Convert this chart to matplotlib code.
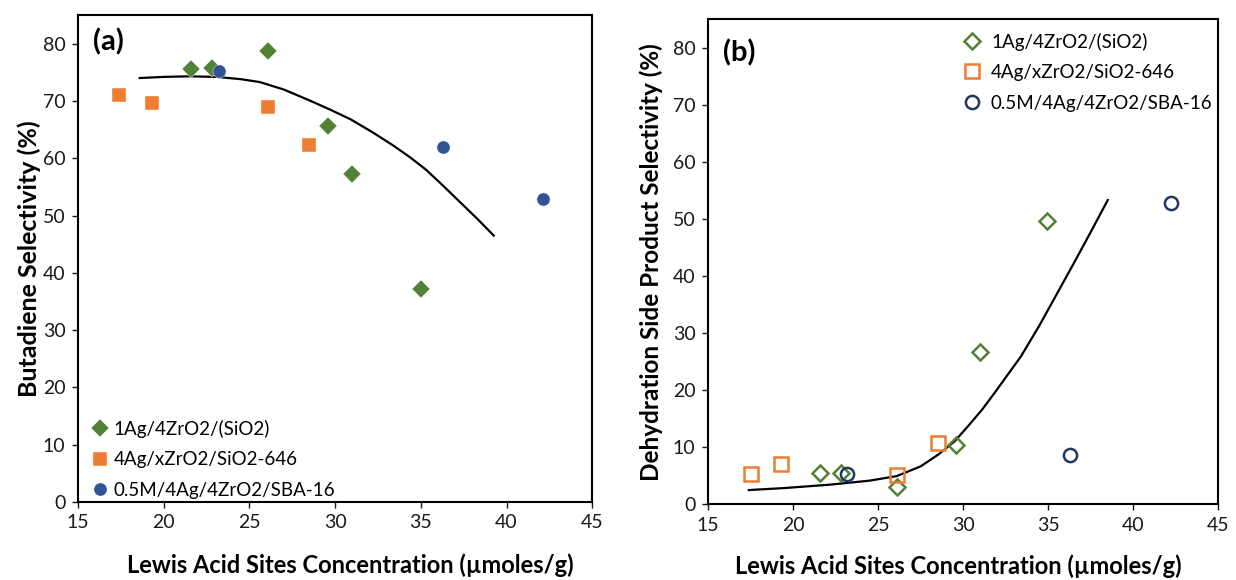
import matplotlib
matplotlib.use("Agg")
import matplotlib.pyplot as plt

plt.rcParams["font.family"] = ["Lato", "DejaVu Sans"]

GREEN = "#538135"
ORANGE = "#ED7D31"
BLUE = "#2F5597"
NAVY = "#203864"

LABELS = ["1Ag/4ZrO2/(SiO2)", "4Ag/xZrO2/SiO2-646", "0.5M/4Ag/4ZrO2/SBA-16"]

# --- panel (a): butadiene selectivity ---
a_green_x = [21.6, 22.8, 26.1, 29.6, 31.0, 35.0]
a_green_y = [75.5, 75.8, 78.7, 65.6, 57.3, 37.1]
a_orange_x = [17.4, 19.3, 26.1, 28.5]
a_orange_y = [71.1, 69.7, 69.0, 62.3]
a_blue_x = [23.2, 36.3, 42.1]
a_blue_y = [75.2, 61.9, 52.9]
a_trend_x = [18.6, 20.0, 21.5, 23.1, 24.5, 25.6, 27.0, 28.5, 29.7, 30.9,
             32.2, 33.4, 34.4, 35.3, 36.3, 37.3, 38.3, 39.25]
a_trend_y = [74.0, 74.2, 74.3, 74.2, 73.8, 73.3, 72.0, 70.1, 68.5, 66.8,
             64.5, 62.2, 60.1, 58.0, 55.2, 52.3, 49.4, 46.5]

# --- panel (b): dehydration side products ---
b_green_x = [21.6, 22.8, 26.1, 29.6, 31.0, 34.9]
b_green_y = [5.5, 5.4, 3.0, 10.3, 26.6, 49.6]
b_orange_x = [17.5, 19.3, 26.1, 28.5]
b_orange_y = [5.2, 7.1, 5.1, 10.7]
b_blue_x = [23.2, 36.3, 42.2]
b_blue_y = [5.2, 8.6, 52.8]
b_trend_x = [17.4, 19.5, 22.2, 24.5, 26.1, 27.5, 28.55, 29.5, 30.3, 31.1,
             31.85, 32.6, 33.4, 34.5, 35.5, 36.5, 37.5, 38.5]
b_trend_y = [2.45, 2.8, 3.4, 4.1, 4.9, 6.6, 8.7, 11.0, 13.7, 16.5,
             19.5, 22.6, 25.9, 31.4, 36.8, 42.2, 47.7, 53.3]

XTICKS = [15, 20, 25, 30, 35, 40, 45]
YTICKS = [0, 10, 20, 30, 40, 50, 60, 70, 80]
XLABEL = "Lewis Acid Sites Concentration (\u00b5moles/g)"

fig = plt.figure(figsize=(12.36, 5.8), dpi=100)
ax_a = fig.add_axes([0.0631, 0.1345, 0.4161, 0.8396])
ax_b = fig.add_axes([0.5728, 0.1310, 0.4129, 0.8357])


def style_axes(ax):
    ax.set_xlim(15, 45)
    ax.set_ylim(0, 85)
    ax.set_xticks(XTICKS)
    ax.set_yticks(YTICKS)
    ax.tick_params(direction="out", length=4, width=1, labelsize=14,
                   colors="#1a1a1a", pad=5)
    for sp in ax.spines.values():
        sp.set_linewidth(1.5)
        sp.set_color("black")


# panel (a)
ax_a.plot(a_trend_x, a_trend_y, color="black", lw=1.6, zorder=2)
ax_a.plot(a_green_x, a_green_y, "D", ms=9, color=GREEN, mec="white", mew=0.3,
          label=LABELS[0], zorder=3)
ax_a.plot(a_orange_x, a_orange_y, "s", ms=10, color=ORANGE, mec="white", mew=0.3,
          label=LABELS[1], zorder=3)
ax_a.plot(a_blue_x, a_blue_y, "o", ms=9.5, color=BLUE, mec="white", mew=0.3,
          label=LABELS[2], zorder=3)
style_axes(ax_a)
ax_a.set_ylabel("Butadiene Selectivity (%)", fontsize=18, fontweight="bold")
ax_a.yaxis.set_label_coords(-0.072, 0.5)
ax_a.set_xlabel(XLABEL, fontsize=17, fontweight="bold")
ax_a.xaxis.set_label_coords(0.53, -0.105)
ax_a.text(0.03, 0.945, "(a)", transform=ax_a.transAxes, fontsize=21,
          fontweight="bold", ha="left", va="center")
ax_a.legend(loc="lower left", bbox_to_anchor=(-0.005, -0.02), frameon=False,
            fontsize=13.5, handletextpad=0.15, handlelength=1.2,
            labelspacing=0.72, borderaxespad=0.3)

# panel (b)
ax_b.plot(b_trend_x, b_trend_y, color="black", lw=1.6, zorder=2)
ax_b.plot(b_green_x, b_green_y, "D", ms=8, mfc="none", mec=GREEN, mew=1.8,
          linestyle="none", label=LABELS[0], zorder=3)
ax_b.plot(b_orange_x, b_orange_y, "s", ms=10, mfc="none", mec=ORANGE, mew=1.8,
          linestyle="none", label=LABELS[1], zorder=3)
ax_b.plot(b_blue_x, b_blue_y, "o", ms=9.5, mfc="none", mec=NAVY, mew=1.8,
          linestyle="none", label=LABELS[2], zorder=3)
style_axes(ax_b)
ax_b.set_ylabel("Dehydration Side Product Selectivity (%)", fontsize=17.5,
                fontweight="bold")
ax_b.yaxis.set_label_coords(-0.088, 0.5)
ax_b.set_xlabel(XLABEL, fontsize=17, fontweight="bold")
ax_b.xaxis.set_label_coords(0.49, -0.103)
ax_b.text(0.03, 0.93, "(b)", transform=ax_b.transAxes, fontsize=21,
          fontweight="bold", ha="left", va="center")
ax_b.legend(loc="upper left", bbox_to_anchor=(0.47, 1.0), frameon=False,
            fontsize=13.5, handletextpad=0.4, handlelength=1.2,
            labelspacing=0.72, borderaxespad=0.3)

fig.savefig("out.png", dpi=100)
